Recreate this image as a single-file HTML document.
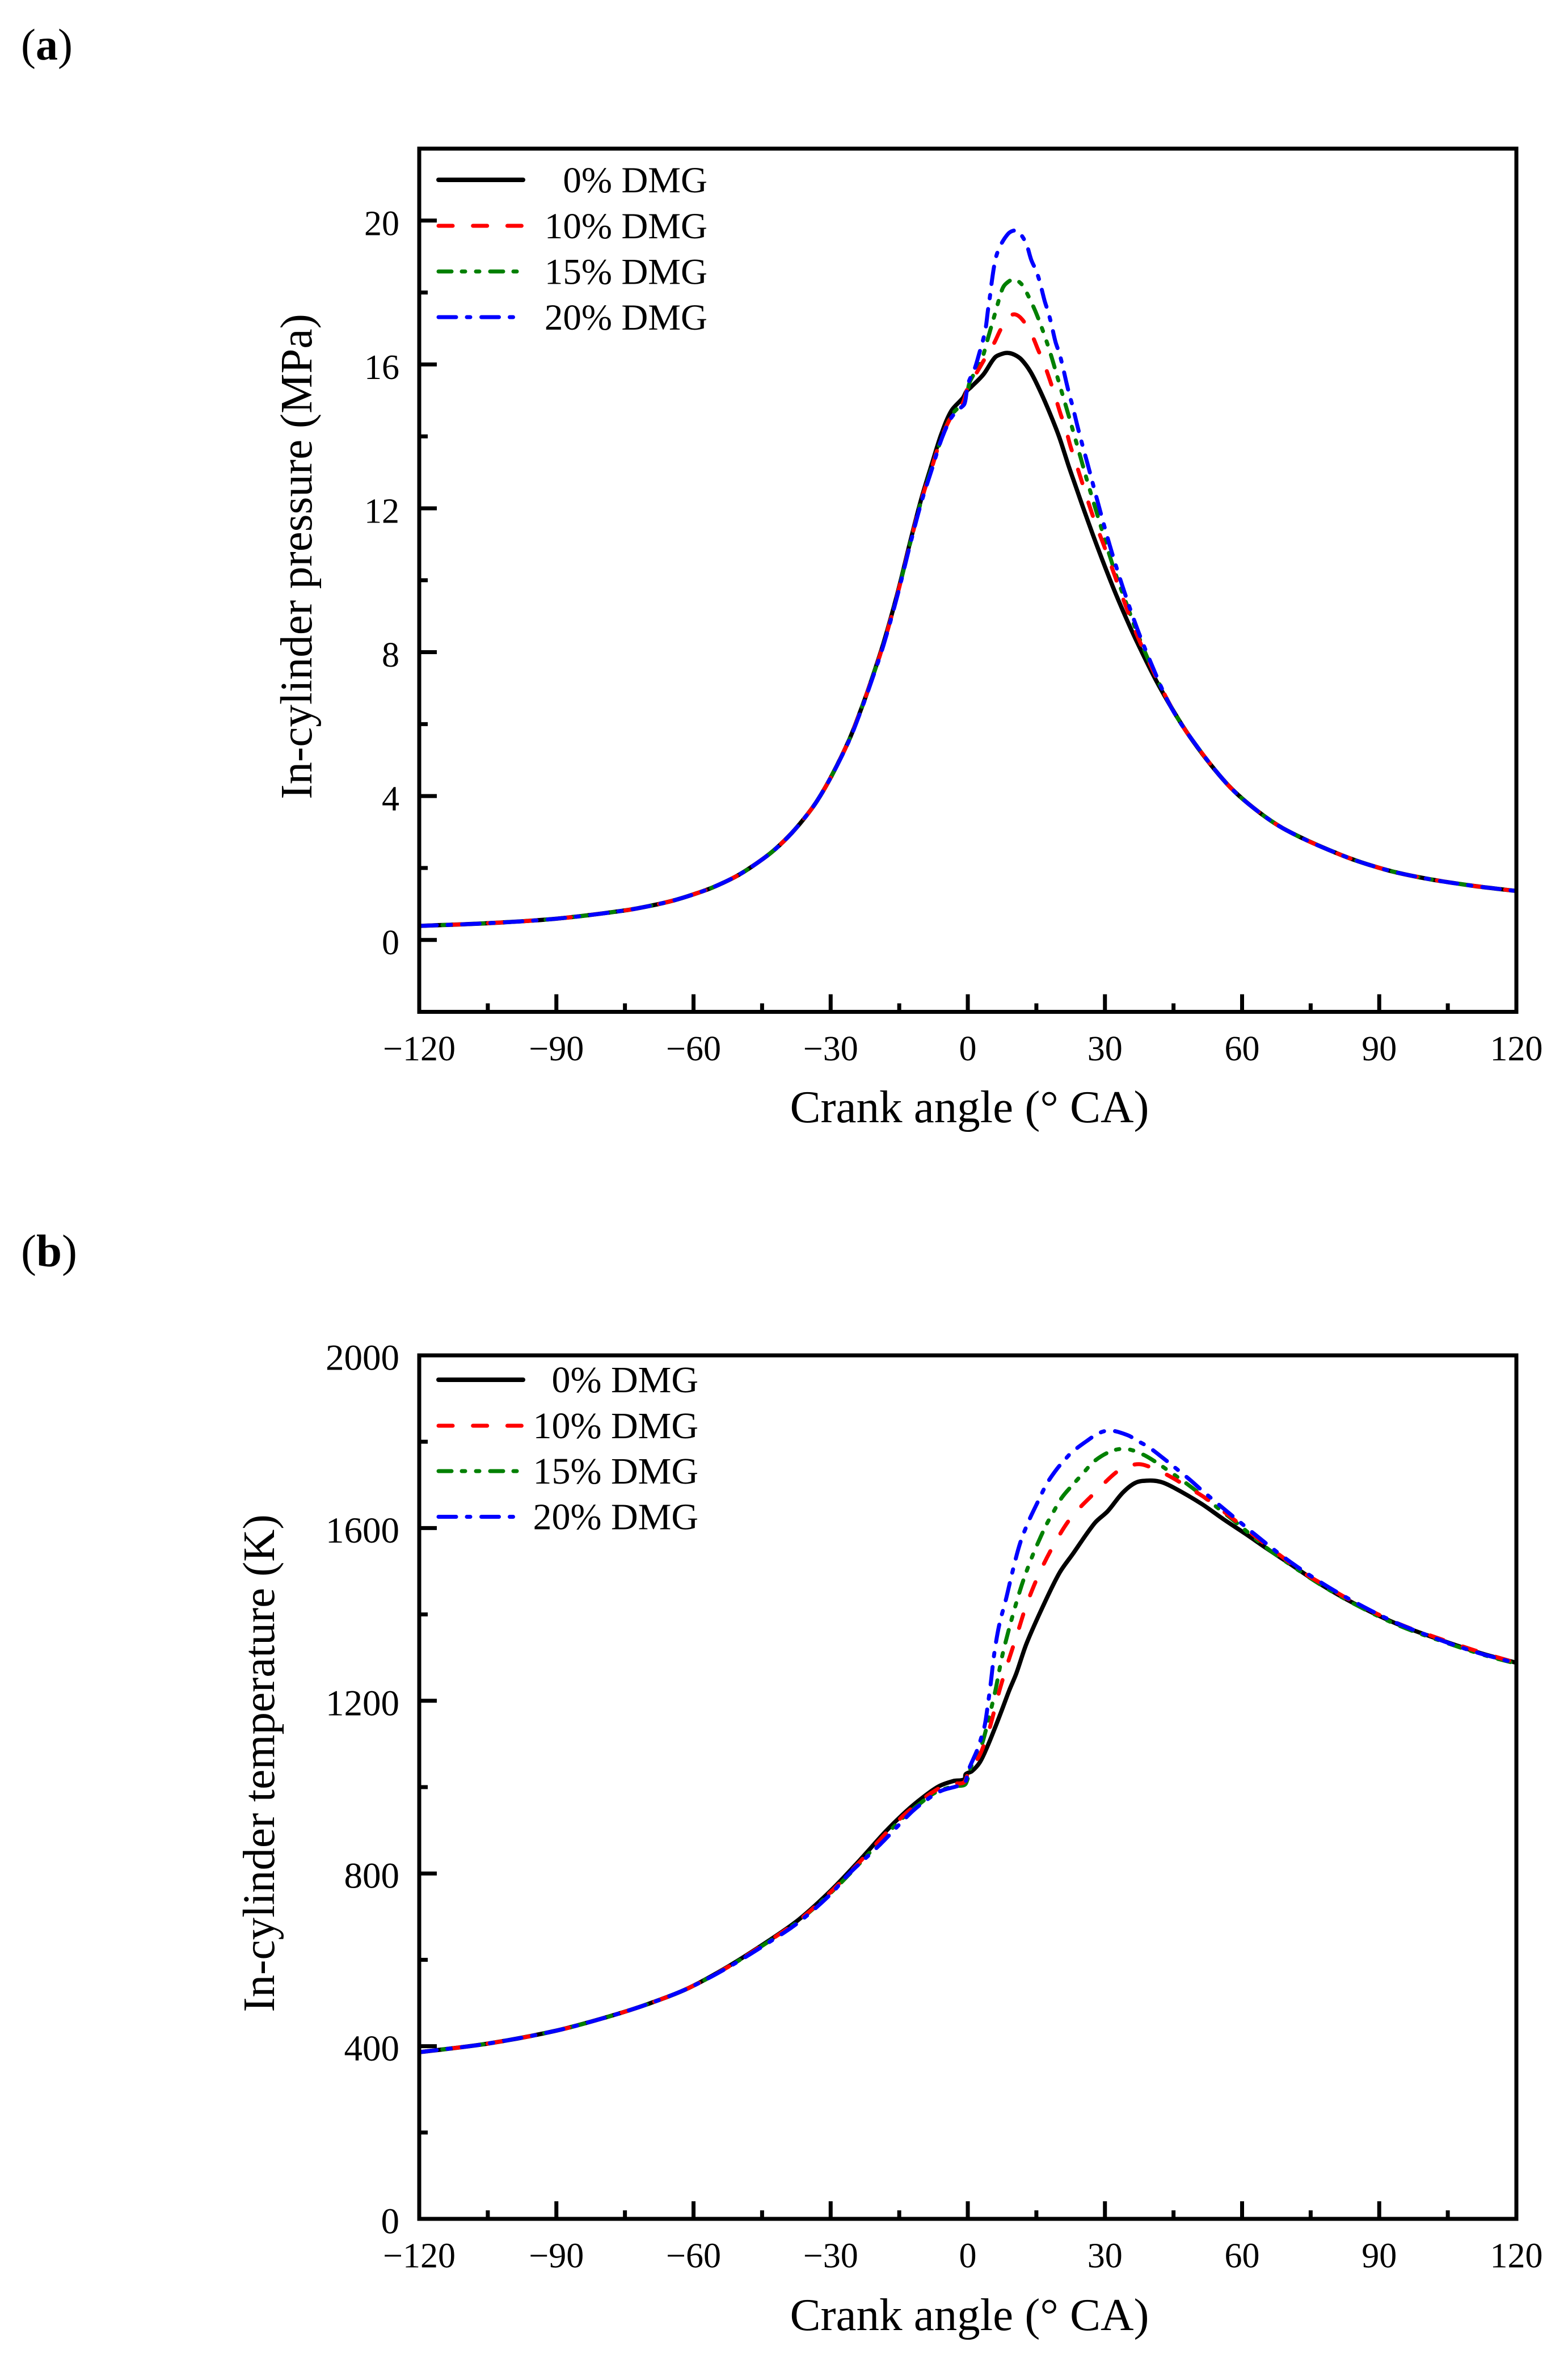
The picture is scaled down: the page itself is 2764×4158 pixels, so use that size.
<!DOCTYPE html>
<html lang="en">
<head>
<meta charset="utf-8">
<title>In-cylinder pressure and temperature vs crank angle</title>
<style>
html,body{margin:0;padding:0;background:#fff;}
svg{display:block;}
text{font-family:"Liberation Serif","Times New Roman",serif;fill:#000;}
.tick{font-size:62px;}
.legend{font-size:65px;}
.title{font-size:81px;}
.panel{font-size:78px;}
</style>
</head>
<body>
<svg id="figure" xmlns="http://www.w3.org/2000/svg" width="2764" height="4158" viewBox="0 0 2764 4158">
  <rect x="0" y="0" width="2764" height="4158" fill="#fff"/>

  <text class="panel" x="37" y="105">(<tspan font-weight="bold">a</tspan>)</text>
  <text class="panel" x="37" y="2232" style="font-size:81px">(<tspan font-weight="bold">b</tspan>)</text>

  <g id="chart-a"></g>
  <g id="chart-b"></g>

  <text class="title" x="1709" y="1978" text-anchor="middle">Crank angle (° CA)</text>
  <text class="title" transform="translate(549 981) rotate(-90)" text-anchor="middle" style="font-size:79px">In-cylinder pressure (MPa)</text>
  <text class="title" x="1709" y="4107" text-anchor="middle">Crank angle (° CA)</text>
  <text class="title" transform="translate(483 3108) rotate(-90)" text-anchor="middle" style="font-size:79px">In-cylinder temperature (K)</text>

  <g>
    <line x1="773" x2="922" y1="317" y2="317" stroke="#000" stroke-width="8" stroke-linecap="round"/>
    <text class="legend" x="1247" y="339" text-anchor="end">0% DMG</text>
    <line x1="773" x2="922" y1="398" y2="398" stroke="#ff0000" stroke-width="7" stroke-linecap="round" stroke-dasharray="25 35.7"/>
    <text class="legend" x="1247" y="420" text-anchor="end">10% DMG</text>
    <line x1="773" x2="922" y1="478.5" y2="478.5" stroke="#008000" stroke-width="7" stroke-linecap="round" stroke-dasharray="23 18 6 19 6 19"/>
    <text class="legend" x="1247" y="500.5" text-anchor="end">15% DMG</text>
    <line x1="773" x2="922" y1="559" y2="559" stroke="#0000ff" stroke-width="7" stroke-linecap="round" stroke-dasharray="31 19 6 19.5"/>
    <text class="legend" x="1247" y="581" text-anchor="end">20% DMG</text>
  </g>

  <g style="font-size:66px">
    <line x1="773" x2="922" y1="2432" y2="2432" stroke="#000" stroke-width="8" stroke-linecap="round"/>
    <text class="legend" x="1231" y="2454" text-anchor="end" style="font-size:66px">0% DMG</text>
    <line x1="773" x2="922" y1="2513" y2="2513" stroke="#ff0000" stroke-width="7" stroke-linecap="round" stroke-dasharray="25 35.7"/>
    <text class="legend" x="1231" y="2535" text-anchor="end" style="font-size:66px">10% DMG</text>
    <line x1="773" x2="922" y1="2593" y2="2593" stroke="#008000" stroke-width="7" stroke-linecap="round" stroke-dasharray="23 18 6 19 6 19"/>
    <text class="legend" x="1231" y="2615" text-anchor="end" style="font-size:66px">15% DMG</text>
    <line x1="773" x2="922" y1="2673.5" y2="2673.5" stroke="#0000ff" stroke-width="7" stroke-linecap="round" stroke-dasharray="31 19 6 19.5"/>
    <text class="legend" x="1231" y="2695.5" text-anchor="end" style="font-size:66px">20% DMG</text>
  </g>
</svg>

<script>
/* ---------- shared x-axis tick values ---------- */
const xMajorTicks = [-120, -90, -60, -30, 0, 30, 60, 90, 120];
const xMinorTicks = [-105, -75, -45, -15, 15, 45, 75, 105];

/* ---------- panel (a): in-cylinder pressure, MPa ---------- */
const pressureMajorTicks = [0, 4, 8, 12, 16, 20];
const pressureMinorTicks = [2, 6, 10, 14, 18];

const pressure0Angles = [-120,-105,-90,-75,-69,-64,-59.7,-55.8,-50.8,-47.1,
  -42.9,-39.2,-35.9,-33,-29.8,-26,-23.5,-21.6,-18.5,-15.3,
  -12.8,-10.2,-7.7,-5.8,-3.6,-1.07,-0.3,0.7,3.4,5.9,
  7.4,8.8,10.2,11.7,13.7,15.8,17.9,20,22,23.5,
  25,27.9,31.1,33.6,36.8,41.8,48.2,56.4,62.7,69.7,
  81.7,91.2,100.1,110.2,120];
const pressure0Values = [0.39,0.465,0.59,0.82,0.96,1.11,1.28,1.46,1.76,2.05,
  2.44,2.88,3.36,3.86,4.56,5.55,6.36,7.03,8.23,9.68,
  10.97,12.25,13.3,14.06,14.71,15.07,15.25,15.37,15.72,16.19,
  16.29,16.32,16.27,16.14,15.8,15.27,14.66,13.98,13.2,12.65,
  12.1,11.08,10.02,9.25,8.34,7.07,5.72,4.38,3.65,3.05,
  2.36,1.96,1.71,1.51,1.36];

const pressure10Angles = [-120,-105,-90,-75,-69,-64,-59.7,-55.8,-50.8,-47.1,
  -42.9,-39.2,-35.9,-33,-29.8,-26,-23.5,-21.6,-18.5,-15.3,
  -12.8,-10.2,-7.7,-5.8,-3.2,-1.2,0.1,1.7,4,5.7,
  7.3,9,10.4,11.9,13.9,15.4,16.8,18.1,19.1,20.3,
  21.4,22.4,23.5,24.7,27.4,30,32.5,34.8,37.4,40.6,
  44.4,48.2,56.4,62.7,69.7,81.7,91.2,100.1,110.2,120];
const pressure10Values = [0.39,0.465,0.59,0.82,0.96,1.11,1.28,1.46,1.76,2.05,
  2.44,2.88,3.36,3.86,4.56,5.55,6.36,7.03,8.2,9.65,
  10.93,12.2,13.2,13.95,14.64,14.9,15.4,15.72,16.22,16.58,
  17,17.33,17.39,17.25,16.85,16.4,15.98,15.51,15.12,14.62,
  14.22,13.75,13.32,12.84,11.77,10.89,10,9.2,8.36,7.47,
  6.5,5.72,4.38,3.65,3.05,2.36,1.96,1.71,1.51,1.36];

const pressure15Angles = [-120,-105,-90,-75,-69,-64,-59.7,-55.8,-50.8,-47.1,
  -42.9,-39.2,-35.9,-33,-29.8,-26,-23.5,-21.6,-18.5,-15.3,
  -12.8,-10.2,-7.7,-5.8,-3.6,-1.2,-0.2,0.4,1.5,3,
  4.5,6.1,7.5,8.3,10,11.7,13.1,15.2,17.7,20.1,
  22.4,24.7,26.1,29.1,32,34.9,37.1,40.6,44.4,48.2,
  56.4,62.7,69.7,81.7,91.2,100.1,110.2,120];
const pressure15Values = [0.39,0.465,0.59,0.82,0.96,1.11,1.28,1.46,1.76,2.05,
  2.44,2.88,3.36,3.86,4.56,5.55,6.36,7.03,8.2,9.65,
  10.93,12.2,13.2,13.92,14.58,14.92,15.2,15.5,15.77,16.12,
  16.77,17.48,18.08,18.24,18.36,18.24,17.94,17.35,16.46,15.43,
  14.43,13.4,12.77,11.5,10.3,9.28,8.52,7.47,6.5,5.72,
  4.38,3.65,3.05,2.36,1.96,1.71,1.51,1.36];

const pressure20Angles = [-120,-105,-90,-75,-69,-64,-59.7,-55.8,-50.8,-47.1,
  -42.9,-39.2,-35.9,-33,-29.8,-26,-23.5,-21.6,-18.5,-15.3,
  -12.8,-10.2,-7.7,-6.1,-4.7,-3.5,-1.8,-0.75,-0.25,0.25,
  1.5,2.6,3.3,3.9,4.4,4.8,5.1,5.7,6.2,7.1,
  8.8,10,11,12.7,13.9,15,15.8,16.8,17.6,18.3,
  19.2,20,20.7,21.6,22.2,22.9,23.9,24.5,25.2,26.3,
  28.2,31.1,33.9,37.1,40.3,44,48.2,56.4,62.7,69.7,
  81.7,91.2,100.1,110.2,120];
const pressure20Values = [0.39,0.465,0.59,0.82,0.96,1.11,1.28,1.46,1.76,2.05,
  2.44,2.88,3.36,3.86,4.56,5.53,6.33,7,8.17,9.62,
  10.9,12.15,13.15,13.8,14.25,14.54,14.77,14.9,15.24,15.53,
  15.88,16.35,16.66,17,17.5,17.85,18.16,18.69,19,19.3,
  19.63,19.72,19.7,19.38,18.9,18.59,18.27,17.77,17.45,17.11,
  16.62,16.32,15.98,15.48,15.17,14.85,14.33,14.03,13.7,13.19,
  12.28,10.95,9.81,8.64,7.63,6.58,5.72,4.38,3.65,3.05,
  2.36,1.96,1.71,1.51,1.36];

/* ---------- panel (b): in-cylinder temperature, K ---------- */
const temperatureMajorTicks = [0, 400, 800, 1200, 1600, 2000];
const temperatureMinorTicks = [200, 600, 1000, 1400, 1800];

const temperature0Angles = [-120,-105,-90,-78.1,-69.6,-61,-52.2,-43.3,-37,-30,
  -23.7,-18,-14.2,-10.7,-6.5,-3.2,-0.75,-0.45,0.9,2.6,
  4.2,5.9,7.5,9.1,10.6,12.9,16.8,20.1,22.9,27.8,
  30.6,33.9,36.7,39.5,42.2,45,51,56,60.7,65.5,
  70.2,77.3,84.4,93.9,103.4,112.9,120];
const temperature0Values = [386,406,436,470,499,535,586,646,693,760,
  830,897,937,969,1001,1014,1018,1030,1037,1057,
  1092,1136,1180,1225,1263,1334,1427,1497,1539,1612,
  1639,1682,1705,1710,1707,1694,1657,1620,1587,1552,
  1519,1469,1426,1378,1341,1308,1288];

const temperature10Angles = [-120,-105,-90,-78.1,-69.6,-61,-52.2,-43.3,-37,-30,
  -23.7,-18,-14.2,-10.7,-8.2,-4.1,-1,-0.2,0.4,2.4,
  4,5,6.8,8.7,10.7,12.9,15.9,19.5,22.8,27.8,
  32.8,35.6,37.5,39.2,42.5,45,47.8,52.2,58.8,64.4,
  68.8,73.7,77.3,84.4,93.9,103.4,112.9,120];
const temperature10Values = [386,406,436,470,499,535,585,645,691,757,
  826,892,933,964,985,1008,1010,1025,1043,1070,
  1112,1145,1219,1286,1351,1424,1501,1574,1627,1682,
  1732,1745,1748,1744,1729,1715,1697,1668,1615,1568,
  1533,1495,1472,1429,1380,1343,1310,1288];

const temperature15Angles = [-120,-105,-90,-78.1,-69.6,-61,-52.2,-43.3,-37,-30,
  -23.7,-18,-14.2,-10.7,-7,-3,-0.75,-0.1,0.6,2.1,
  3.2,4.6,6,7.6,9.6,11.8,14,15.7,17.2,18.6,
  20.6,23.1,24.9,27.8,31.6,34.8,38.4,41.4,43.6,46.7,
  49.5,55,58.8,65.5,71,77.3,84.4,93.9,103.4,112.9,120];
const temperature15Values = [386,406,436,470,499,535,585,644,690,755,
  823,888,929,960,988,1002,1005,1017,1045,1075,
  1103,1160,1222,1307,1389,1468,1532,1574,1608,1635,
  1671,1702,1723,1756,1779,1783,1770,1751,1735,1712,
  1690,1644,1612,1553,1512,1468,1425,1376,1339,1306,1286];

const temperature20Angles = [-120,-105,-90,-78.1,-69.6,-61,-52.2,-43.3,-37,-30,
  -26.2,-19.2,-14.2,-11.7,-8.4,-5.7,-1.8,-0.5,-0.1,0.4,
  2.1,2.9,3.7,4.3,5,5.8,6.9,8.3,9.8,11.5,
  13.4,15.1,17.3,19.5,21.2,22.8,26.2,28.7,31.2,35,
  37.3,39.5,42.5,45.8,48.8,50.6,55.4,59.4,62.6,69.2,
  76.8,84.4,93.2,102,111,120];
const temperature20Values = [386,406,436,470,499,535,584,642,687,752,
  797,867,922,948,975,992,1004,1013,1030,1046,
  1087,1113,1143,1184,1239,1310,1377,1433,1500,1567,
  1618,1656,1703,1737,1758,1776,1803,1820,1826,1815,
  1801,1788,1764,1736,1710,1693,1650,1615,1587,1532,
  1477,1430,1383,1346,1313,1287];

/* ---------- drawing ---------- */
const SVGNS = 'http://www.w3.org/2000/svg';
const DASH_RED = '25 35.7';
const DASH_GREEN = '23 18 6 19 6 19';
const DASH_BLUE = '31 19 6 19.5';

function makeEl(parent, tag) {
  const el = document.createElementNS(SVGNS, tag);
  parent.appendChild(el);
  return el;
}

function smoothPath(pts) {
  let d = 'M' + pts[0][0].toFixed(2) + ' ' + pts[0][1].toFixed(2);
  for (let i = 0; i < pts.length - 1; i++) {
    const p0 = pts[Math.max(i - 1, 0)];
    const p1 = pts[i];
    const p2 = pts[i + 1];
    const p3 = pts[Math.min(i + 2, pts.length - 1)];
    const seg = Math.hypot(p2[0] - p1[0], p2[1] - p1[1]);
    const a = Math.hypot(p2[0] - p0[0], p2[1] - p0[1]) || 1;
    const b = Math.hypot(p3[0] - p1[0], p3[1] - p1[1]) || 1;
    const c1x = p1[0] + (p2[0] - p0[0]) * seg / a / 3;
    const c1y = p1[1] + (p2[1] - p0[1]) * seg / a / 3;
    const c2x = p2[0] - (p3[0] - p1[0]) * seg / b / 3;
    const c2y = p2[1] - (p3[1] - p1[1]) * seg / b / 3;
    d += 'C' + c1x.toFixed(2) + ' ' + c1y.toFixed(2) + ' ' + c2x.toFixed(2) + ' ' + c2y.toFixed(2) + ' ' + p2[0].toFixed(2) + ' ' + p2[1].toFixed(2);
  }
  return d;
}

function drawChart(group, box, yMin, yMax, yMajor, yMinor, yLabelSize, series) {
  const xScale = function (deg) { return box.left + (deg + 120) / 240 * (box.right - box.left); };
  const yScale = function (val) { return box.bottom - (val - yMin) / (yMax - yMin) * (box.bottom - box.top); };

  /* curves */
  const curves = makeEl(group, 'g');
  
  
  series.forEach(function (s) {
    const pts = s.angles.map(function (a, i) { return [xScale(a), yScale(s.values[i])]; });
    const path = makeEl(curves, 'path');
    
    
    path.setAttribute('d', smoothPath(pts));
    path.setAttribute('fill', 'none');
    path.setAttribute('stroke', s.color);
    path.setAttribute('stroke-width', s.dash ? '7' : '7.5');
    path.setAttribute('stroke-linecap', s.dash ? 'round' : 'butt');
    path.setAttribute('stroke-linejoin', 'round');
    if (s.dash) path.setAttribute('stroke-dasharray', s.dash);
  });

  /* frame */
  const frame = makeEl(group, 'rect');
  
  
  frame.setAttribute('x', box.left);
  frame.setAttribute('y', box.top);
  frame.setAttribute('width', box.right - box.left);
  frame.setAttribute('height', box.bottom - box.top);
  frame.setAttribute('fill', 'none');
  frame.setAttribute('stroke', '#000');
  frame.setAttribute('stroke-width', '7');

  /* x ticks */
  xMajorTicks.forEach(function (v) {
    const t = makeEl(group, 'line');
    
    
    t.setAttribute('x1', xScale(v));
    t.setAttribute('x2', xScale(v));
    t.setAttribute('y1', box.bottom);
    t.setAttribute('y2', box.bottom - 31);
    t.setAttribute('stroke', '#000');
    t.setAttribute('stroke-width', '7');
    const label = makeEl(group, 'text');
    
    
    label.setAttribute('class', 'tick');
    label.setAttribute('x', xScale(v));
    label.setAttribute('y', box.bottom + 85.5);
    label.setAttribute('text-anchor', 'middle');
    label.textContent = String(v).replace('-', '\u2212');
  });
  xMinorTicks.forEach(function (v) {
    const t = makeEl(group, 'line');
    
    
    t.setAttribute('x1', xScale(v));
    t.setAttribute('x2', xScale(v));
    t.setAttribute('y1', box.bottom);
    t.setAttribute('y2', box.bottom - 15);
    t.setAttribute('stroke', '#000');
    t.setAttribute('stroke-width', '7');
  });

  /* y ticks */
  yMajor.forEach(function (v) {
    const t = makeEl(group, 'line');
    
    
    t.setAttribute('x1', box.left);
    t.setAttribute('x2', box.left + 31);
    t.setAttribute('y1', yScale(v));
    t.setAttribute('y2', yScale(v));
    t.setAttribute('stroke', '#000');
    t.setAttribute('stroke-width', '7');
    const label = makeEl(group, 'text');
    
    
    label.setAttribute('class', 'tick');
    label.setAttribute('style', 'font-size:' + yLabelSize + 'px');
    label.setAttribute('x', box.left - 35);
    label.setAttribute('y', yScale(v) + 25.5);
    label.setAttribute('text-anchor', 'end');
    label.textContent = String(v);
  });
  yMinor.forEach(function (v) {
    const t = makeEl(group, 'line');
    
    
    t.setAttribute('x1', box.left);
    t.setAttribute('x2', box.left + 15);
    t.setAttribute('y1', yScale(v));
    t.setAttribute('y2', yScale(v));
    t.setAttribute('stroke', '#000');
    t.setAttribute('stroke-width', '7');
  });
}

drawChart(document.getElementById('chart-a'),
  { left: 739, right: 2673, top: 262, bottom: 1783.5 }, -2, 22,
  pressureMajorTicks, pressureMinorTicks, 62,
  [
    { name: 'pressure-line-0-dmg', color: '#000000', dash: null, angles: pressure0Angles, values: pressure0Values },
    { name: 'pressure-line-15-dmg', color: '#008000', dash: DASH_GREEN, angles: pressure15Angles, values: pressure15Values },
    { name: 'pressure-line-10-dmg', color: '#ff0000', dash: DASH_RED, angles: pressure10Angles, values: pressure10Values },
    { name: 'pressure-line-20-dmg', color: '#0000ff', dash: DASH_BLUE, angles: pressure20Angles, values: pressure20Values }
  ]);

drawChart(document.getElementById('chart-b'),
  { left: 739, right: 2673, top: 2389, bottom: 3911 }, 0, 2000,
  temperatureMajorTicks, temperatureMinorTicks, 65,
  [
    { name: 'temperature-line-0-dmg', color: '#000000', dash: null, angles: temperature0Angles, values: temperature0Values },
    { name: 'temperature-line-15-dmg', color: '#008000', dash: DASH_GREEN, angles: temperature15Angles, values: temperature15Values },
    { name: 'temperature-line-10-dmg', color: '#ff0000', dash: DASH_RED, angles: temperature10Angles, values: temperature10Values },
    { name: 'temperature-line-20-dmg', color: '#0000ff', dash: DASH_BLUE, angles: temperature20Angles, values: temperature20Values }
  ]);
</script>
</body>
</html>
